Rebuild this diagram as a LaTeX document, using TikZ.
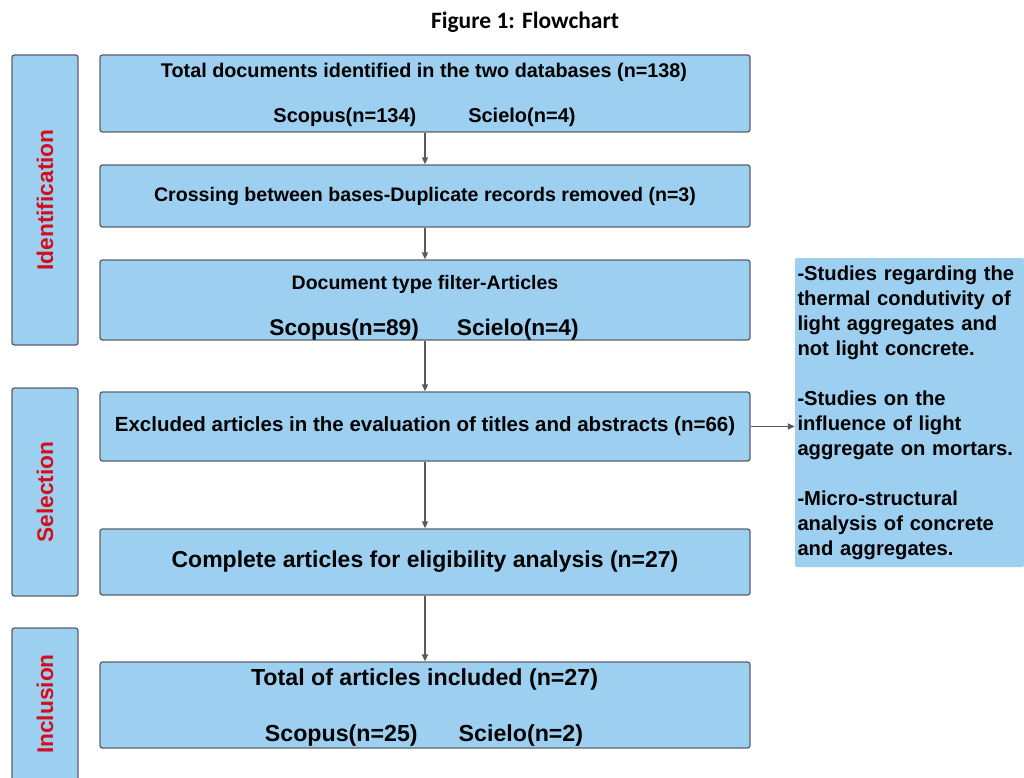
\documentclass[tikz,border=0pt]{standalone}
\usepackage{fontspec}
\setmainfont{Liberation Sans}
\newfontfamily\titlefont{Carlito}
\usetikzlibrary{arrows.meta}
\usetikzlibrary{positioning}
\definecolor{boxblue}{RGB}{157,208,240}
\definecolor{boxline}{RGB}{88,98,108}
\definecolor{phasered}{RGB}{208,16,28}
\definecolor{arrowgray}{RGB}{90,90,90}
\newcommand{\Fs}[2]{\fontsize{#1}{#2}\selectfont\bfseries}

\begin{document}
\begin{tikzpicture}[
    x=1pt, y=-1pt,
    >={Triangle[length=7pt,width=6pt]},
    stagebox/.style={draw=boxline, line width=1.3pt, fill=boxblue,
      rounded corners=2.5pt, minimum width=650pt, inner sep=0pt, align=center},
    phasebox/.style={draw=boxline, line width=1.3pt, fill=boxblue,
      rounded corners=2.5pt, minimum width=66pt, inner sep=0pt},
    phaselabel/.style={text=phasered, font=\Fs{22.7}{24}, rotate=90},
    boxline/.style={anchor=base, inner sep=0pt},
    flow/.style={->, draw=arrowgray, line width=1.5pt}
    ]

    \useasboundingbox (0,0) rectangle (1024,778);

    \node[font=\titlefont\fontsize{23.5}{26}\selectfont\bfseries] (title) at (525,22) {Figure 1: Flowchart};

    % phases
    \node[phasebox, minimum height=290pt] (ident) at (45,200) {};
    \node[phaselabel] (identtext) at (ident.center) {Identification};
    \node[phasebox, minimum height=208pt] (sel) at (45,492) {};
    \node[phaselabel] (seltext) at (sel.center) {Selection};
    \node[phasebox, minimum height=172pt] (incl) at (45,714) {};
    \node[phaselabel] (incltext) at (45,704) {Inclusion};

    % stages
    \node[stagebox, minimum height=77pt] (total) at (425,93.5) {};
    \node[boxline, font=\Fs{19.8}{22}] (totalA) at (424,77.1)
      {Total documents identified in the two databases (n=138)};
    \node[boxline, font=\Fs{20}{22}] (totalB) at (424.5,122.2)
      {Scopus(n=134)\hspace{52pt}Scielo(n=4)};

    \node[stagebox, minimum height=62pt] (dup) at (425,196)
      {\Fs{19.6}{18}Crossing between bases-Duplicate records removed (n=3)};

    \node[stagebox, minimum height=80pt] (type) at (425,300) {};
    \node[boxline, font=\Fs{19.5}{22}] (typeA) at (425,289)
      {Document type filter-Articles};
    \node[boxline, font=\Fs{22.7}{24}] (typeB) at (424,335.2)
      {Scopus(n=89)\hspace{38pt}Scielo(n=4)};

    \node[stagebox, minimum height=69pt] (excl) at (425,426.5)
      {\Fs{20.5}{18}Excluded articles in the evaluation of titles and abstracts (n=66)};
    \node[stagebox, minimum height=66pt] (elig) at (425,562)
      {\Fs{23}{20}Complete articles for eligibility analysis (n=27)};

    \node[stagebox, minimum height=86pt] (incd) at (425,705) {};
    \node[boxline, font=\Fs{23.2}{26}] (incdA) at (424.5,685.4)
      {Total of articles included (n=27)};
    \node[boxline, font=\Fs{23.2}{26}] (incdB) at (424,741.4)
      {Scopus(n=25)\hspace{41pt}Scielo(n=2)};

    % exclusion reasons
    \node[fill=boxblue, rounded corners=2pt, minimum width=229pt, minimum height=309pt,
      text width=224pt, inner sep=1pt, align=left, font=\Fs{20.2}{25}] (reasons) at (909.5,412.5)
      {-Studies regarding the\\ thermal condutivity of\\ light aggregates and\\ not light concrete.\\[25pt]
       -Studies on the\\ influence of light\\ aggregate on mortars.\\[25pt]
       -Micro-structural\\ analysis of concrete\\ and aggregates.};

    \draw[flow] (total) -- (dup);
    \draw[flow] (dup) -- (type);
    \draw[flow] (type) -- (excl);
    \draw[flow] (excl) -- (elig);
    \draw[flow] (elig) -- (incd);
    \draw[flow] (excl.east) -- (excl.east -| reasons.west);

  \end{tikzpicture}
\end{document}
